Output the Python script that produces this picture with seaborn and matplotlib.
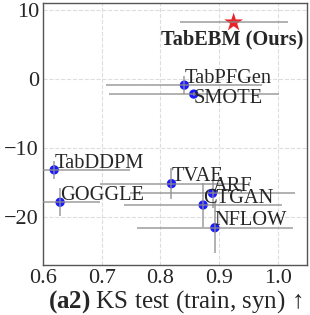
import matplotlib
matplotlib.use("Agg")
import matplotlib.pyplot as plt
import seaborn as sns
import pandas as pd

methods = ["TabEBM (Ours)", "TabPFGen", "SMOTE", "TabDDPM", "GOGGLE", "TVAE", "ARF", "CTGAN", "NFLOW"]
ks = [0.925, 0.841, 0.857, 0.619, 0.629, 0.819, 0.889, 0.873, 0.893]
ks_err = [0.092, 0.133, 0.145, 0.129, 0.068, 0.122, 0.140, 0.135, 0.133]
rank = [8.2, -0.9, -2.2, -13.2, -17.9, -15.2, -16.6, -18.3, -21.6]
rank_err = [0.0, 1.3, 0.3, 1.3, 2.0, 2.2, 2.1, 3.2, 3.7]

df = pd.DataFrame({"method": methods, "ks": ks, "ks_err": ks_err, "rank": rank, "rank_err": rank_err})

sns.set_style("white")
plt.rcParams["font.family"] = ["Liberation Serif", "DejaVu Serif"]
plt.rcParams["mathtext.fontset"] = "custom"
plt.rcParams["mathtext.bf"] = "Liberation Serif:bold"
plt.rcParams["mathtext.rm"] = "Liberation Serif"

fig, ax = plt.subplots(figsize=(3.1, 3.15), dpi=100)
ax.grid(True, linestyle="--", color="#dddddd", linewidth=0.8)
ax.set_axisbelow(True)

ours = df[df["method"] == "TabEBM (Ours)"]
others = df[df["method"] != "TabEBM (Ours)"]
sns.scatterplot(data=others, x="ks", y="rank", ax=ax, color="#1a1aff", s=45, edgecolor="none", zorder=2)
sns.scatterplot(data=ours, x="ks", y="rank", ax=ax, color="#e8262a", marker="*", s=200, edgecolor="none", zorder=2)

ax.errorbar(df["ks"], df["rank"], xerr=df["ks_err"], yerr=df["rank_err"], fmt="none",
            ecolor="#8c8c8c", elinewidth=1.1, capsize=0, zorder=3, alpha=0.85)

fs = 14.7
for _, r in df.iterrows():
    if r["method"] == "TabEBM (Ours)":
        ax.text(r["ks"] - 0.003, r["rank"] - 1.0, r["method"], ha="center", va="top", fontsize=fs, fontweight="bold")
    elif r["method"] == "SMOTE":
        ax.text(r["ks"], r["rank"] + 0.7, r["method"], ha="left", va="top", fontsize=fs)
    else:
        ax.text(r["ks"], r["rank"] - 0.4, r["method"], ha="left", va="bottom", fontsize=fs)

ax.set_xlim(0.6, 1.05)
ax.set_ylim(-27, 11)
ax.set_xticks([0.6, 0.7, 0.8, 0.9, 1.0])
ax.set_yticks([10, 0, -10, -20])
ax.tick_params(labelsize=16, length=0, pad=3)
ax.set_xlabel(r"$\mathbf{(a2)}$ KS test (train, syn) ↑", fontsize=18, labelpad=0)
ax.set_ylabel("")
for s in ax.spines.values():
    s.set_color("#555555")
    s.set_linewidth(1.0)

fig.subplots_adjust(left=0.139, right=0.99, top=0.99, bottom=0.159)
fig.savefig("out.png", dpi=100)
